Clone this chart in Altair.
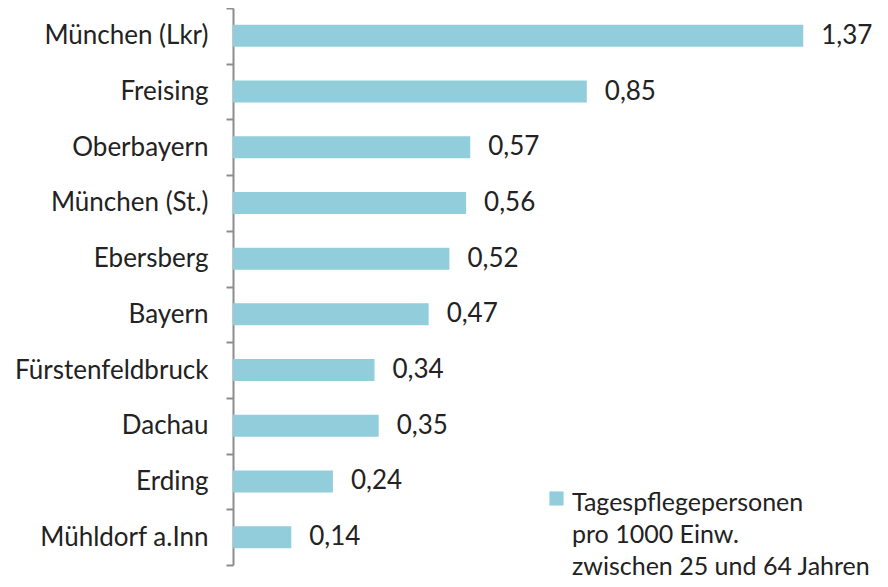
import altair as alt
import pandas as pd

regions = ["München (Lkr)", "Freising", "Oberbayern", "München (St.)", "Ebersberg",
           "Bayern", "Fürstenfeldbruck", "Dachau", "Erding", "Mühldorf a.Inn"]
values = [1.37, 0.85, 0.57, 0.56, 0.52, 0.47, 0.34, 0.35, 0.24, 0.14]
series_lines = ["Tagespflegepersonen", "pro 1000 Einw.", "zwischen 25 und 64 Jahren"]

df = pd.DataFrame({"region": regions, "value": values, "series": series_lines[0]})

FONT = "Lato"
FS = 26
COLOR = "#92CDDC"
TEXT = "#222222"

y_enc = alt.Y("region:N", sort=regions, title=None,
              scale=alt.Scale(paddingInner=0, paddingOuter=0),
              axis=alt.Axis(domainColor="#8c8c8c", domainWidth=2, tickColor="#8c8c8c",
                            tickWidth=2, tickSize=7, tickBand="extent", labelFont=FONT,
                            labelFontSize=FS, labelColor=TEXT, labelPadding=18,
                            labelLimit=300))
x_enc = alt.X("value:Q", axis=None, scale=alt.Scale(domain=[0, 1.54], nice=False, zero=True))

bars = alt.Chart(df).mark_bar(size=22).encode(
    y=y_enc, x=x_enc,
    color=alt.Color("series:N", scale=alt.Scale(range=[COLOR]),
                    legend=alt.Legend(title=series_lines, orient="none", legendX=316, legendY=483,
                                      titleOrient="right", titleAnchor="start",
                                      titleBaseline="top", titleAlign="left",
                                      titleFont=FONT, titleFontSize=25, titleFontWeight="normal",
                                      titleColor=TEXT, titleLineHeight=32, titlePadding=8,
                                      titleLimit=400,
                                      symbolType="square", symbolSize=200,
                                      symbolStrokeWidth=0, labelExpr="''",
                                      labelOffset=0, padding=0)),
)

labels = alt.Chart(df).transform_calculate(
    lbl="replace(format(datum.value, '.2f'), '.', ',')"
).mark_text(align="left", baseline="middle", dx=18, font=FONT, fontSize=FS, color=TEXT).encode(
    y=alt.Y("region:N", sort=regions), x="value:Q", text="lbl:N"
)

chart = alt.layer(bars, labels).properties(
    width=641, height=557, autosize=alt.AutoSizeParams(type="none"),
    padding={"left": 225, "top": 0, "right": 6, "bottom": 14}
).configure_view(stroke=None)

chart.save("out.html", embed_options={"renderer": "svg", "actions": False})
